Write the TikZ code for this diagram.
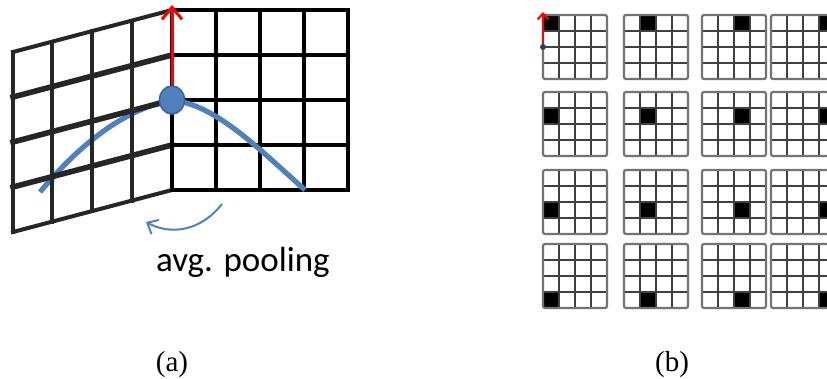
\documentclass[tikz,border=0pt]{standalone}
\usepackage{fontspec}
\setmainfont{Liberation Serif}
\newfontfamily\calibrifont{Carlito}
\usetikzlibrary{arrows.meta,shapes.geometric}
\definecolor{ptblue}{HTML}{4F81BD}
\definecolor{ptblueline}{HTML}{3A64A0}
\definecolor{ptnavy}{HTML}{1F3F6E}
\tikzset{
  leftgrid/.style={line width=2pt, draw=black!85, line cap=rect},
  rightgrid/.style={line width=1.8pt, draw=black, line cap=rect},
  bluecurve/.style={line width=2.6pt, draw=ptblue, line cap=butt},
  redarrow/.style={line width=1.5pt, draw=red, -{Straight Barb[length=6pt,width=10pt]}},
  poolarrow/.style={line width=1pt, draw=ptblue, -{Straight Barb[length=4.5pt,width=8pt]}},
  pixdot/.style={ellipse, fill=ptblue, draw=ptblueline, line width=0.8pt, minimum width=12.5pt, minimum height=14pt, inner sep=0pt},
  minigrid/.style={line width=0.8pt, draw=black!75},
  miniframe/.style={line width=1.1pt, draw=black!55, rounded corners=1pt},
  minidot/.style={circle, fill=ptnavy, minimum size=3pt, inner sep=0pt},
  miniarrow/.style={line width=1pt, draw=red, -{Straight Barb[length=3pt,width=5.5pt]}},
}
\begin{document}
\begin{tikzpicture}[x=0.5pt, y=-0.5pt]
  \clip (0,0) rectangle (827,379);

  % (a) folded map
  \coordinate (lstart) at (40,192);
  \coordinate (pixc) at (172,100);
  \coordinate (rend) at (305,190);
  \draw[bluecurve] (lstart) .. controls (75,150) and (120,110) .. (pixc);

  % left side, slanted
  \foreach \x in {13,52,92,132,172} {
    \pgfmathsetmacro{\ytop}{52-42*(\x-13)/159}
    \draw[leftgrid] (\x,\ytop) -- (\x,{\ytop+180});
  }
  \foreach \k in {0,4}
    \draw[leftgrid] (13,{52+45*\k}) -- (172,{10+45*\k});
  \foreach \k in {1,2,3}
    \draw[leftgrid, line width=2.8pt] (13,{52+45*\k}) -- (172,{10+45*\k});

  % right side
  \foreach \x in {172,216,260,304,348}
    \draw[rightgrid] (\x,10) -- (\x,190);
  \foreach \y in {10,55,100,145,190}
    \draw[rightgrid] (172,\y) -- (348,\y);

  \draw[bluecurve] (pixc) .. controls (215,105) and (255,145) .. (rend);
  \coordinate (atop) at (172,5);
  \node[pixdot] (pix) at (pixc) {};
  \draw[redarrow] (pix) -- (atop);

  \coordinate (pfrom) at (222,204);
  \coordinate (pto) at (146,222);
  \draw[poolarrow] (pfrom) .. controls (200,232) and (170,235) .. (pto);
  \node[anchor=base, font=\calibrifont\fontsize{17.5}{20}\selectfont] (pool) at (243,272) {avg. pooling};

  % (b) one map per position
  \foreach \c/\gx in {0/543,1/624,2/702,3/771}
    \foreach \r/\gy in {0/15,1/92,2/170,3/244} {
      \fill ({\gx+16*\c},{\gy+16*\r}) rectangle ++(16,16);
      \foreach \i in {1,2,3} {
        \draw[minigrid] ({\gx+16*\i},\gy) -- ++(0,64);
        \draw[minigrid] (\gx,{\gy+16*\i}) -- ++(64,0);
      }
      \draw[miniframe] (\gx,\gy) rectangle ++(64,64);
    }
  \node[minidot] (mpix) at (543,47) {};
  \coordinate (mtop) at (543,12);
  \draw[miniarrow] (mpix) -- (mtop);

  % captions
  \node[font=\fontsize{14.5}{17}\selectfont] (capa) at (172,365) {(a)};
  \node[font=\fontsize{14.5}{17}\selectfont] (capb) at (672,365) {(b)};
\end{tikzpicture}
\end{document}
